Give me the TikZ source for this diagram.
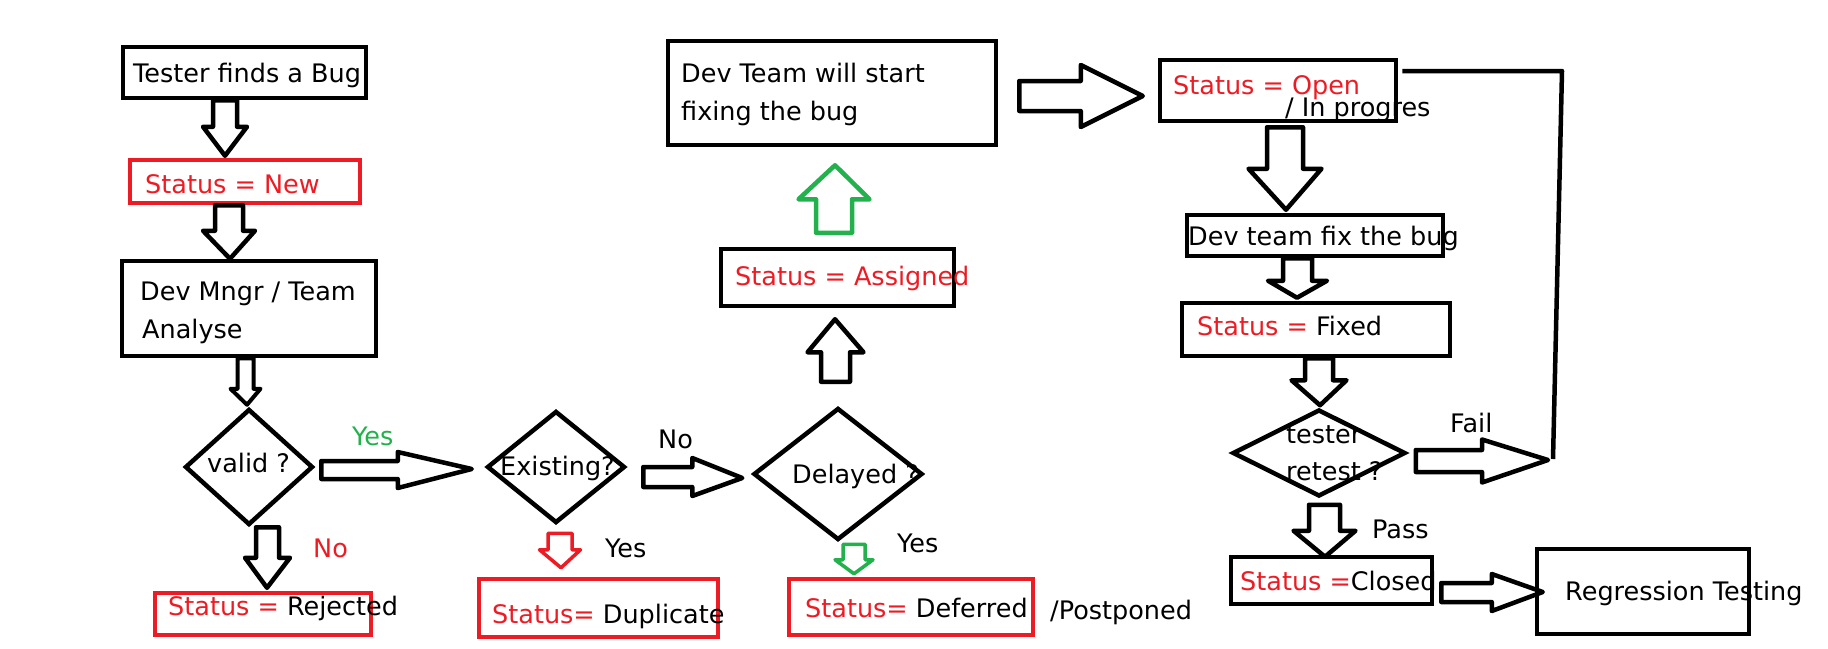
\documentclass[tikz,border=0pt]{standalone}
\usepackage{fontspec}
\setmainfont{DejaVu Sans}
\usetikzlibrary{calc,shapes.geometric}
\definecolor{pred}{HTML}{ED1C24}
\definecolor{pgreen}{HTML}{22B14C}
\tikzset{
  box/.style={draw=black, line width=4.5pt, rectangle, inner sep=0pt},
  rbox/.style={draw=pred, line width=4.5pt, rectangle, inner sep=0pt},
  dia/.style={draw=black, line width=4.5pt, diamond, inner sep=0pt},
  txt/.style={anchor=base west, inner sep=0pt, font=\fontsize{25.5}{30}\selectfont},
  blkarrow/.style={draw=black, line width=4.5pt, line join=round},
  fbline/.style={draw=black, line width=4.5pt, line join=round}
}
% #2 start (shaft base centre), #3 tip, #4 shaft half width, #5 head half width, #6 head length
\newcommand\blkdn[6][]{%
  \draw[blkarrow,#1] let \p1=#2, \p2=#3 in
    (\x1-#4pt,\y1) -- (\x1-#4pt,\y2+#6pt) -- (\x1-#5pt,\y2+#6pt) -- (\x2,\y2)
    -- (\x1+#5pt,\y2+#6pt) -- (\x1+#4pt,\y2+#6pt) -- (\x1+#4pt,\y1) -- cycle;}
\newcommand\blkup[6][]{%
  \draw[blkarrow,#1] let \p1=#2, \p2=#3 in
    (\x1-#4pt,\y1) -- (\x1-#4pt,\y2-#6pt) -- (\x1-#5pt,\y2-#6pt) -- (\x2,\y2)
    -- (\x1+#5pt,\y2-#6pt) -- (\x1+#4pt,\y2-#6pt) -- (\x1+#4pt,\y1) -- cycle;}
\newcommand\blkrt[6][]{%
  \draw[blkarrow,#1] let \p1=#2, \p2=#3 in
    (\x1,\y1+#4pt) -- (\x2-#6pt,\y1+#4pt) -- (\x2-#6pt,\y1+#5pt) -- (\x2,\y2)
    -- (\x2-#6pt,\y1-#5pt) -- (\x2-#6pt,\y1-#4pt) -- (\x1,\y1-#4pt) -- cycle;}
\begin{document}
\begin{tikzpicture}[x=1pt,y=-1pt]
\useasboundingbox[fill=white] (0,0) rectangle (1828,648);

% boxes and decisions
\node[box,  minimum width=243pt, minimum height=51pt]  (tester)    at (244.5,72.5) {};
\node[rbox, minimum width=230pt, minimum height=43pt]  (new)       at (245,181.5) {};
\node[box,  minimum width=254pt, minimum height=95pt]  (mngr)      at (249,308.5) {};
\node[dia,  minimum width=128pt, minimum height=116pt] (valid)     at (249,467) {};
\node[rbox, minimum width=216pt, minimum height=42pt]  (rejected)  at (263,614) {};
\node[dia,  minimum width=138pt, minimum height=112pt] (existing)  at (556,467) {};
\node[rbox, minimum width=239pt, minimum height=58pt]  (duplicate) at (598.5,608) {};
\node[dia,  minimum width=169pt, minimum height=132pt] (delayed)   at (838,474) {};
\node[rbox, minimum width=244pt, minimum height=56pt]  (deferred)  at (911,607) {};
\node[box,  minimum width=233pt, minimum height=57pt]  (assigned)  at (837.5,277.5) {};
\node[box,  minimum width=328pt, minimum height=104pt] (devteam)   at (832,93) {};
\node[box,  minimum width=236pt, minimum height=61pt]  (open)      at (1278,90.5) {};
\node[box,  minimum width=256pt, minimum height=41pt]  (fixbug)    at (1315,235.5) {};
\node[box,  minimum width=268pt, minimum height=53pt]  (fixed)     at (1316,329.5) {};
\node[dia,  minimum width=173pt, minimum height=87pt]  (retest)    at (1319,453) {};
\node[box,  minimum width=201pt, minimum height=47pt]  (closed)    at (1331.5,580.5) {};
\node[box,  minimum width=212pt, minimum height=85pt]  (regress)   at (1643,591.5) {};

% texts
\node[txt] (t1) at (133,82) {Tester finds a Bug};
\node[txt,text=pred] (t2) at (145,193) {Status = New};
\node[txt] (t3) at (140,300) {Dev Mngr / Team};
\node[txt] (t4) at (142,338) {Analyse};
\node[txt] (t5) at (207,472) {valid ?};
\node[txt,text=pgreen] (t6) at (352,445) {Yes};
\node[txt,text=pred] (t7) at (313,557) {No};
\node[txt] (t8) at (168,615) {\textcolor{pred}{Status =} Rejected};
\node[txt] (t9) at (500,475) {Existing?};
\node[txt] (t10) at (658,448) {No};
\node[txt] (t11) at (605,557) {Yes};
\node[txt] (t12) at (492,623) {\textcolor{pred}{Status=} Duplicate};
\node[txt] (t13) at (792,483) {Delayed ?};
\node[txt] (t14) at (897,552) {Yes};
\node[txt] (t15) at (805,617) {\textcolor{pred}{Status=} Deferred};
\node[txt] (t16) at (1050,619) {/Postponed};
\node[txt] (t17) at (681,82) {Dev Team will start};
\node[txt] (t18) at (681,120) {fixing the bug};
\node[txt,text=pred] (t19) at (735,285) {Status = Assigned};
\node[txt,text=pred] (t20) at (1173,94) {Status = Open};
\node[txt] (t21) at (1285,116) {/ In progres};
\node[txt] (t22) at (1188,245) {Dev team fix the bug};
\node[txt] (t23) at (1197,335) {\textcolor{pred}{Status =} Fixed};
\node[txt] (t24) at (1286,443) {tester};
\node[txt] (t25) at (1286,480) {retest ?};
\node[txt] (t26) at (1450,432) {Fail};
\node[txt] (t27) at (1372,538) {Pass};
\node[txt] (t28) at (1240,590) {\textcolor{pred}{Status =}Closed};
\node[txt] (t29) at (1565,600) {Regression Testing};

% block arrows
\blkdn{($(tester.south)+(-19.5,0)$)}{($(new.north)+(-20,-2)$)}{12}{22}{29}
\blkdn{($(new.south)+(-16,0)$)}{($(mngr.north)+(-19,0)$)}{14}{26}{28}
\blkdn[line width=4pt]{($(mngr.south)+(-3.5,0)$)}{($(valid.north)+(-2,-2)$)}{8}{15}{16}
\blkrt{($(valid.east)+(6,3)$)}{($(existing.west)+(-13,2)$)}{9}{18}{74}
\blkdn{($(valid.south)+(18.5,0)$)}{($(rejected.north)+(4,-3)$)}{11.5}{22.5}{30}
\blkrt{($(existing.east)+(16,10)$)}{($(delayed.west)+(-9,4)$)}{10}{19}{50}
\blkdn[draw=pred,line width=3.5pt]{($(existing.south)+(4,8)$)}{($(duplicate.north)+(-37.5,-9)$)}{12}{20.5}{18}
\blkdn[draw=pgreen,line width=3.5pt]{($(delayed.south)+(16,2)$)}{($(deferred.north)+(-57,-3)$)}{11}{19}{14}
\blkup{($(delayed.north)+(-2.5,-24)$)}{($(assigned.south)+(-2.5,11)$)}{14.5}{28}{33}
\blkup[draw=pgreen]{($(assigned.north)+(-3.5,-14)$)}{($(devteam.south)+(3,18)$)}{18}{35.5}{34}
\blkrt{($(devteam.east)+(21,3)$)}{($(open.west)+(-15,5.5)$)}{15}{31}{62}
\blkdn{($(open.south)+(7,4)$)}{($(fixbug.north)+(-29,-3)$)}{18}{36.5}{41}
\blkdn{($(fixbug.south)+(-17.5,0)$)}{($(fixed.north)+(-19,-3)$)}{14.5}{29.5}{17}
\blkdn{($(fixed.south)+(3,0)$)}{($(retest.north)+(1,-2)$)}{14}{27.5}{25}
\coordinate (failend) at (1548,460);
\blkrt{($(retest.east)+(8,8)$)}{(failend)}{11}{21.5}{66}
\coordinate (fbbot) at (1553,459);
\coordinate (fbtop) at (1562,71);
\draw[fbline] (fbbot) -- (fbtop) -- ($(open.east)+(4,-19.5)$);
\blkdn{($(retest.south)+(5.5,6)$)}{($(closed.north)+(-6.5,2)$)}{15.5}{31}{26}
\blkrt{($(closed.east)+(7,12)$)}{($(regress.west)+(8,0.5)$)}{9.5}{18.5}{51}
\end{tikzpicture}
\end{document}
